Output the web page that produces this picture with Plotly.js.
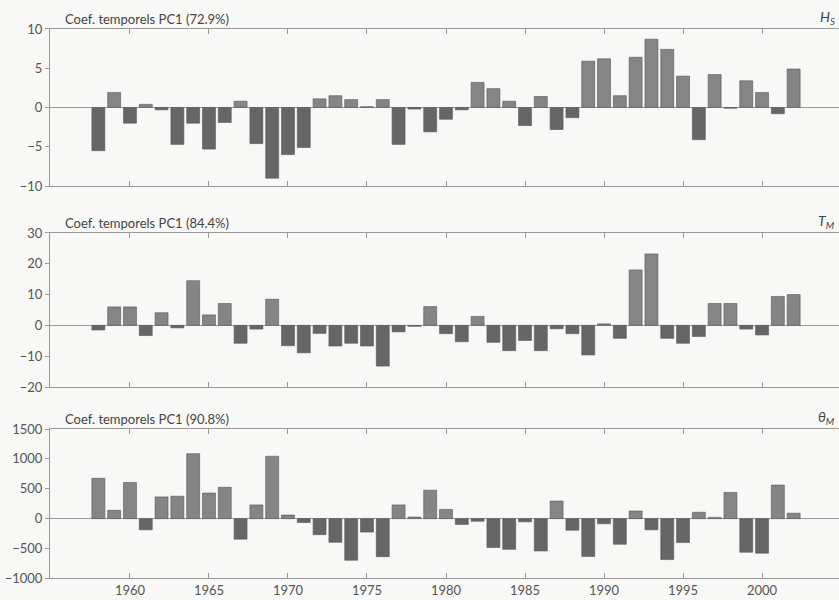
<!DOCTYPE html>
<html>
<head>
<meta charset="utf-8">
<script src="https://cdn.plot.ly/plotly-3.0.1.min.js"></script>
<style>html,body{margin:0;padding:0;background:#f8f8f6;}#chart{width:839px;height:600px;}</style>
</head>
<body>
<div id="chart"></div>
<script>
const years = [1958,1959,1960,1961,1962,1963,1964,1965,1966,1967,1968,1969,1970,1971,1972,1973,1974,1975,1976,1977,1978,1979,1980,1981,1982,1983,1984,1985,1986,1987,1988,1989,1990,1991,1992,1993,1994,1995,1996,1997,1998,1999,2000,2001,2002];

const hsValues = [-5.5,1.9,-2.0,0.4,-0.3,-4.7,-2.0,-5.3,-1.9,0.8,-4.6,-9.0,-6.0,-5.1,1.1,1.5,1.0,0.1,1.0,-4.7,-0.2,-3.1,-1.5,-0.3,3.2,2.4,0.8,-2.3,1.4,-2.8,-1.3,5.9,6.2,1.5,6.4,8.7,7.4,4.0,-4.1,4.2,-0.1,3.4,1.9,-0.8,4.9];

const tmValues = [-1.5,6.0,6.0,-3.3,4.1,-0.8,14.5,3.4,7.1,-5.8,-1.2,8.5,-6.6,-8.9,-2.6,-6.7,-5.8,-6.7,-13.2,-2.1,-0.3,6.1,-2.7,-5.3,2.9,-5.5,-8.2,-4.9,-8.2,-1.1,-2.7,-9.6,0.5,-4.2,18.0,23.2,-4.2,-5.8,-3.6,7.1,7.1,-1.2,-3.1,9.4,10.0];

const thetaValues = [675,139,605,-187,364,375,1087,428,525,-343,230,1044,59,-64,-268,-396,-696,-225,-637,230,27,476,155,-96,-43,-482,-514,-54,-541,294,-193,-632,-86,-428,128,-187,-685,-401,107,21,439,-562,-578,562,91];

const panelTitles = ["Coef. temporels PC1 (72.9%)","Coef. temporels PC1 (84.4%)","Coef. temporels PC1 (90.8%)"];
const panelLabels = ["<i>H<sub>S</sub></i>","<i>T<sub>M</sub></i>","<i>θ<sub>M</sub></i>"];
const xTickVals = [1960,1965,1970,1975,1980,1985,1990,1995,2000];

const series = [hsValues, tmValues, thetaValues];
const yRanges = [[-10,10],[-20,30],[-1000,1500]];
const yDticks = [5,10,500];
const domains = [[0.69,0.9517],[0.355,0.6117],[0.036,0.285]];

const FONT = 'Lato, "Open Sans", sans-serif';
const traces = [];
const layout = {
  width: 839, height: 600,
  margin: {l: 50, r: 0, t: 0, b: 0},
  paper_bgcolor: '#f8f8f6',
  plot_bgcolor: '#f8f8f6',
  showlegend: false,
  font: {family: FONT, size: 12, color: '#555'},
  annotations: []
};

series.forEach((vals, i) => {
  const sfx = i === 0 ? '' : String(i + 1);
  traces.push({
    type: 'bar',
    x: years,
    y: vals,
    width: 0.82,
    xaxis: 'x' + sfx,
    yaxis: 'y' + sfx,
    marker: {
      color: vals.map(v => v >= 0 ? '#858585' : '#666666'),
      line: {color: '#555', width: 0.6}
    },
    hoverinfo: 'x+y'
  });
  const xa = {
    anchor: 'y' + sfx,
    domain: [0, 1],
    range: [1954.94, 2004.87],
    tickmode: 'array',
    tickvals: xTickVals,
    ticks: 'inside',
    ticklen: 5,
    tickcolor: '#999',
    showline: true,
    linecolor: '#999',
    linewidth: 1,
    mirror: 'ticks',
    showgrid: false,
    zeroline: false,
    showticklabels: i === 2,
    tickfont: {family: FONT, size: 13, color: '#555'}
  };
  if (i === 2) { xa.ticktext = xTickVals.map(String); }
  layout['xaxis' + sfx] = xa;
  layout['yaxis' + sfx] = {
    anchor: 'x' + sfx,
    domain: domains[i],
    range: yRanges[i],
    dtick: yDticks[i],
    tick0: 0,
    ticks: 'outside',
    ticklen: 4,
    tickcolor: '#999',
    showline: true,
    linecolor: '#999',
    linewidth: 1,
    showgrid: false,
    zeroline: true,
    zerolinecolor: '#999',
    zerolinewidth: 1,
    tickfont: {family: FONT, size: 13, color: '#555'}
  };
  layout.annotations.push({
    xref: 'paper', yref: 'paper',
    x: 0.0165, y: domains[i][1],
    xanchor: 'left', yanchor: 'bottom',
    text: panelTitles[i],
    showarrow: false,
    font: {family: FONT, size: 13, color: '#444'}
  });
  layout.annotations.push({
    xref: 'paper', yref: 'paper',
    x: 0.998, y: domains[i][1],
    xanchor: 'right', yanchor: 'bottom',
    text: panelLabels[i],
    showarrow: false,
    font: {family: FONT, size: 14, color: '#444'}
  });
});

Plotly.newPlot('chart', traces, layout, {displayModeBar: false, staticPlot: true});
</script>
</body>
</html>
